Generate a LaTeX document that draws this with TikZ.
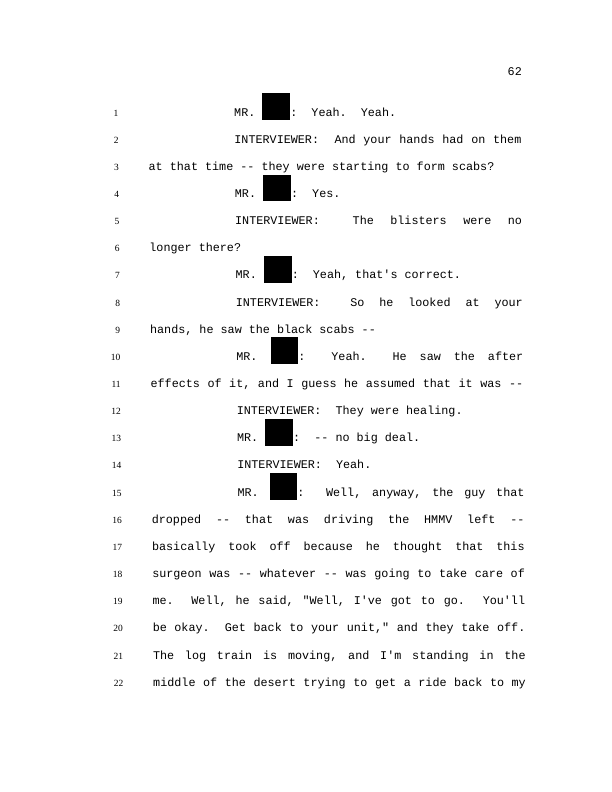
\documentclass[tikz,border=0pt]{standalone}
\usepackage{fontspec}
\newfontfamily\courfont{Liberation Mono}
\newfontfamily\numfont{Liberation Serif}
% black bar over a name
\newcommand{\blk}{\rule[-4pt]{28pt}{27pt}}
% one transcript row: line no, indent, justified?, text
\newcommand{\row}[4]{%
  \pgfmathsetmacro{\rx}{148+0.24*(#1-1)+#2}%
  \pgfmathsetmacro{\ry}{116+27.15*(#1-1)}%
  \pgfmathsetmacro{\rw}{522+0.24*(#1-1)-\rx}%
  \node[txt] (l#1) at (\rx,\ry) {\ifnum#3=1 \hbox to \rw pt{\spaceskip=.6em plus 1fil\relax #4}\else #4\fi};}
\begin{document}
\begin{tikzpicture}[x=1bp,y=-1bp,
  txt/.style={anchor=base west,inner sep=0pt,font=\courfont\fontsize{11.8}{14}\selectfont\frenchspacing},
  num/.style={anchor=base east,inner sep=0pt,font=\numfont\fontsize{9.5}{11}\selectfont}]
\useasboundingbox (0,0) rectangle (612,792);
\node[txt,anchor=base east] (pg) at (522,76) {62};
\foreach \k in {1,...,22}
  \node[num] (n\k) at ({118.5+0.24*(\k-1)},{116+27.15*(\k-1)}) {\k};
\row{1}{86}{0}{MR. \blk:~ Yeah.~ Yeah.}
\row{2}{86}{1}{INTERVIEWER:~ And your hands had on them}
\row{3}{0}{0}{at that time -- they were starting to form scabs?}
\row{4}{86}{0}{MR. \blk:~ Yes.}
\row{5}{86}{1}{INTERVIEWER:~ The blisters were no}
\row{6}{0}{0}{longer there?}
\row{7}{86}{0}{MR. \blk:~ Yeah, that's correct.}
\row{8}{86}{1}{INTERVIEWER:~ So he looked at your}
\row{9}{0}{0}{hands, he saw the black scabs --}
\row{10}{86}{1}{MR. \blk:~ Yeah.~ He saw the after}
\row{11}{0}{1}{effects of it, and I guess he assumed that it was --}
\row{12}{86}{0}{INTERVIEWER:~ They were healing.}
\row{13}{86}{0}{MR. \blk:~ -- no big deal.}
\row{14}{86}{0}{INTERVIEWER:~ Yeah.}
\row{15}{86}{1}{MR. \blk:~ Well, anyway, the guy that}
\row{16}{0}{1}{dropped -- that was driving the HMMV left --}
\row{17}{0}{1}{basically took off because he thought that this}
\row{18}{0}{1}{surgeon was -- whatever -- was going to take care of}
\row{19}{0}{1}{me.~ Well, he said, "Well, I've got to go.~ You'll}
\row{20}{0}{1}{be okay.~ Get back to your unit," and they take off.}
\row{21}{0}{1}{The log train is moving, and I'm standing in the}
\row{22}{0}{1}{middle of the desert trying to get a ride back to my}
\end{tikzpicture}
\end{document}
